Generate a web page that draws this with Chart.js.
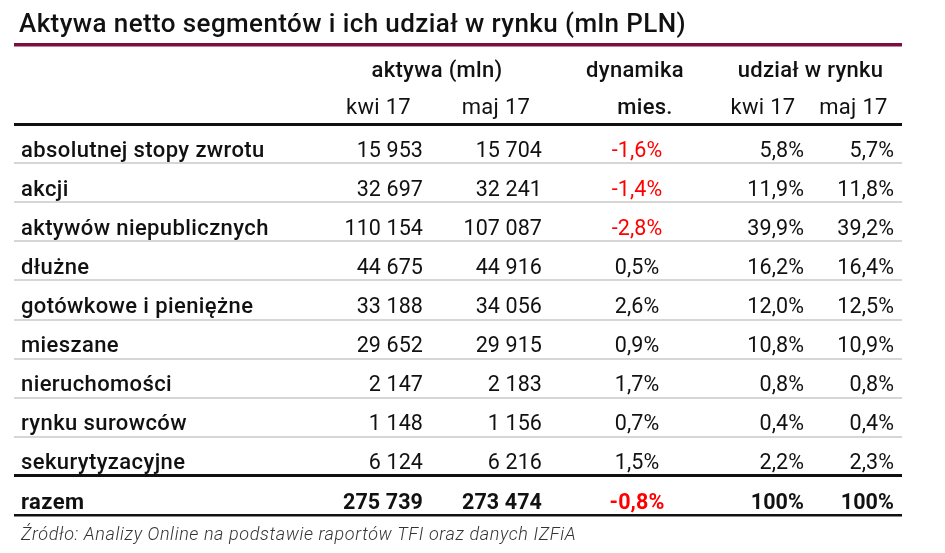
<!DOCTYPE html>
<html>
<head>
<meta charset="utf-8">
<script src="https://cdn.jsdelivr.net/npm/chart.js@4.4.1/dist/chart.umd.min.js"></script>
<style>
html,body{margin:0;padding:0;background:#ffffff;}
#wrap{width:945px;height:553px;position:relative;}
</style>
</head>
<body>
<div id="wrap"><canvas id="c" width="945" height="553"></canvas></div>
<script>
// ---- data ----
const title = 'Aktywa netto segmentów i ich udział w rynku (mln PLN)';
const source = 'Źródło: Analizy Online na podstawie raportów TFI oraz danych IZFiA';
const categories = ['absolutnej stopy zwrotu', 'akcji', 'aktywów niepublicznych', 'dłużne',
  'gotówkowe i pieniężne', 'mieszane', 'nieruchomości', 'rynku surowców', 'sekurytyzacyjne'];
const totalLabel = 'razem';
const aktywaKwi17 = [15953, 32697, 110154, 44675, 33188, 29652, 2147, 1148, 6124];
const aktywaMaj17 = [15704, 32241, 107087, 44916, 34056, 29915, 2183, 1156, 6216];
const dynamikaMies = [-1.6, -1.4, -2.8, 0.5, 2.6, 0.9, 1.7, 0.7, 1.5];
const udzialKwi17 = [5.8, 11.9, 39.9, 16.2, 12.0, 10.8, 0.8, 0.4, 2.2];
const udzialMaj17 = [5.7, 11.8, 39.2, 16.4, 12.5, 10.9, 0.8, 0.4, 2.3];
const totalAktywa = [275739, 273474];
const totalDynamika = -0.8;
const totalUdzial = [100, 100];
const headerGroups = ['aktywa (mln)', 'dynamika', 'udział w rynku'];
const headerSub = ['kwi 17', 'maj 17', 'mies.', 'kwi 17', 'maj 17'];

// ---- layout (x positions in table units along the hidden x scale) ----
const layout = {
  labelX: 7,
  colX: [409, 528, 623, 790, 880],
  colAlign: ['right', 'right', 'center', 'right', 'right'],
  groupX: [423, 621, 796.5],
  subX: [364.5, 482, 631, 749, 839.5],
  subBold: [false, false, true, false, false]
};
const FONT = 'Roboto';
const TEXT = '#111111';
const RED = '#ff0000';

function fmtInt(n) { return String(n).replace(/\B(?=(\d{3})+(?!\d))/g, ' '); }
function fmtPct(v) { return (Number.isInteger(v) && Math.abs(v) >= 100) ? v + '%' : v.toFixed(1).replace('.', ',') + '%'; }
function setSpacing(ctx, s) { if ('letterSpacing' in ctx) ctx.letterSpacing = s; }

const rows = categories.concat([totalLabel]);
const columns = [
  { texts: rows.slice(), x: layout.labelX, align: 'left', kind: 'label', neg: rows.map(() => false) },
  { texts: aktywaKwi17.concat([totalAktywa[0]]).map(fmtInt), x: layout.colX[0], align: layout.colAlign[0], kind: 'value', neg: rows.map(() => false) },
  { texts: aktywaMaj17.concat([totalAktywa[1]]).map(fmtInt), x: layout.colX[1], align: layout.colAlign[1], kind: 'value', neg: rows.map(() => false) },
  { texts: dynamikaMies.concat([totalDynamika]).map(fmtPct), x: layout.colX[2], align: layout.colAlign[2], kind: 'value', neg: dynamikaMies.concat([totalDynamika]).map(v => v < 0) },
  { texts: udzialKwi17.concat([totalUdzial[0]]).map(fmtPct), x: layout.colX[3], align: layout.colAlign[3], kind: 'value', neg: rows.map(() => false) },
  { texts: udzialMaj17.concat([totalUdzial[1]]).map(fmtPct), x: layout.colX[4], align: layout.colAlign[4], kind: 'value', neg: rows.map(() => false) }
];

const datasets = columns.map((c, ci) => ({
  label: 'col' + ci,
  data: rows.map(r => ({ x: c.x, y: r })),
  pointRadius: 0,
  pointHoverRadius: 0,
  showLine: false,
  cellTexts: c.texts,
  cellAlign: c.align,
  cellKind: c.kind,
  cellNeg: c.neg
}));

const tablePlugin = {
  id: 'tablePlugin',
  beforeDraw(chart) {
    const ctx = chart.ctx;
    const xs = chart.scales.x;
    const area = chart.chartArea;
    ctx.save();
    ctx.fillStyle = '#ffffff';
    ctx.fillRect(0, 0, chart.width, chart.height);
    // title
    ctx.fillStyle = TEXT;
    ctx.font = '500 26px ' + FONT;
    setSpacing(ctx, '0.4px');
    ctx.textAlign = 'left';
    ctx.textBaseline = 'alphabetic';
    ctx.fillText(title, 19, 32);
    // maroon rule
    ctx.fillStyle = '#7b0f42';
    ctx.fillRect(area.left, 43, area.right - area.left, 3.5);
    // headers
    ctx.fillStyle = TEXT;
    ctx.textAlign = 'center';
    setSpacing(ctx, '0.3px');
    ctx.font = '500 22px ' + FONT;
    headerGroups.forEach((h, i) => ctx.fillText(h, xs.getPixelForValue(layout.groupX[i]), 77));
    headerSub.forEach((h, i) => {
      ctx.font = (layout.subBold[i] ? '500 ' : '400 ') + '22px ' + FONT;
      ctx.fillText(h, xs.getPixelForValue(layout.subX[i]), 114);
    });
    // source
    ctx.textAlign = 'left';
    ctx.fillStyle = '#333333';
    setSpacing(ctx, '0.6px');
    ctx.font = 'italic 300 18px ' + FONT;
    ctx.fillText(source, 21, 540);
    ctx.restore();
  },
  afterDatasetsDraw(chart) {
    const ctx = chart.ctx;
    const ys = chart.scales.y;
    const rowH = (ys.bottom - ys.top) / rows.length;
    ctx.save();
    ctx.textBaseline = 'alphabetic';
    chart.data.datasets.forEach((ds, di) => {
      const meta = chart.getDatasetMeta(di);
      meta.data.forEach((el, i) => {
        const isTotal = i === rows.length - 1;
        const isLabel = ds.cellKind === 'label';
        const weight = isTotal ? '700' : (isLabel ? '500' : '400');
        ctx.font = weight + (isLabel ? ' 22px ' : ' 21.5px ') + FONT;
        setSpacing(ctx, isLabel ? '0.4px' : '0.1px');
        ctx.fillStyle = ds.cellNeg[i] ? RED : TEXT;
        ctx.textAlign = ds.cellAlign;
        ctx.fillText(ds.cellTexts[i], el.x, el.y + rowH / 2 - 6.5);
      });
    });
    ctx.restore();
  }
};

new Chart(document.getElementById('c'), {
  type: 'scatter',
  data: { datasets },
  options: {
    responsive: false,
    animation: false,
    events: [],
    layout: { padding: { top: 124, bottom: 38, left: 14, right: 43 } },
    plugins: { legend: { display: false }, tooltip: { enabled: false }, title: { display: false } },
    scales: {
      x: { type: 'linear', display: false, min: 0, max: 888 },
      y: {
        type: 'category',
        labels: rows,
        offset: true,
        ticks: { display: false },
        border: { display: false },
        grid: {
          offset: true,
          drawTicks: false,
          color: (c) => (c.index === undefined || c.index === 0 || c.index === rows.length - 1) ? '#111111' : '#d6d6d6',
          lineWidth: (c) => (c.index === undefined) ? 2.5 : ((c.index === 0 || c.index === rows.length - 1) ? 3 : 2)
        }
      }
    }
  },
  plugins: [tablePlugin]
});
</script>
</body>
</html>
